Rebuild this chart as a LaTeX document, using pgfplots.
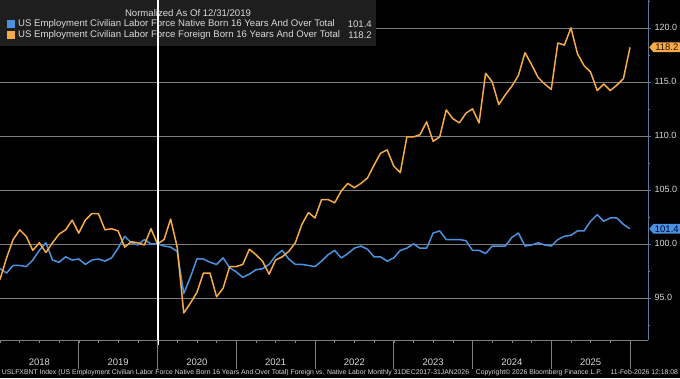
\documentclass[border=0pt]{standalone}
\usepackage{fontspec}
\setmainfont{Liberation Sans}
\usepackage{graphicx}
\usepackage{pgfplots}
\pgfplotsset{compat=1.18}
\usepackage{pgfplotstable}
\usetikzlibrary{shapes.symbols}
\definecolor{bborange}{HTML}{F7AA48}
\definecolor{bbblue}{HTML}{4A92E0}
\definecolor{gridgray}{HTML}{7E7E7E}
\definecolor{txtgray}{HTML}{DADADA}
\definecolor{legbg}{HTML}{1E1E1E}
\definecolor{axblue}{HTML}{5C7A9A}

\pgfplotstableread{
i native foreign
0 97.7 96.7
1 97.3 98.7
2 98.0 100.4
3 98.0 101.3
4 97.9 100.7
5 98.5 99.4
6 99.4 100.1
7 100.1 99.2
8 98.5 100.1
9 98.3 100.9
10 98.8 101.3
11 98.5 102.2
12 98.6 101.0
13 98.1 102.2
14 98.5 102.8
15 98.6 102.8
16 98.4 101.3
17 98.7 101.4
18 99.6 101.2
19 100.7 99.7
20 100.1 100.2
21 99.9 100.1
22 100.4 99.9
23 100.0 101.4
24 100.0 100.0
25 99.8 100.4
26 99.7 102.3
27 99.3 99.7
28 95.4 93.6
29 96.9 94.5
30 98.6 95.5
31 98.6 97.3
32 98.3 97.3
33 98.1 95.1
34 98.7 95.9
35 97.8 97.9
36 97.4 97.9
37 96.9 98.1
38 97.2 99.5
39 97.6 99.0
40 97.7 98.4
41 98.1 97.2
42 98.9 98.5
43 99.4 98.8
44 98.6 99.3
45 98.1 100.1
46 98.1 101.8
47 98.0 102.9
48 97.9 102.4
49 98.4 104.1
50 99.0 104.1
51 99.4 103.8
52 98.7 104.9
53 99.1 105.6
54 99.6 105.2
55 99.8 105.6
56 99.5 106.1
57 98.8 107.3
58 98.8 108.4
59 98.4 108.7
60 98.7 107.2
61 99.4 106.6
62 99.6 109.9
63 100.0 109.9
64 99.6 110.1
65 99.6 111.3
66 101.0 109.5
67 101.2 109.9
68 100.4 112.4
69 100.4 111.6
70 100.4 111.2
71 100.3 112.1
72 99.4 112.5
73 99.4 111.2
74 99.1 115.8
75 99.8 115.0
76 99.8 112.9
77 99.8 113.8
78 100.6 114.6
79 101.0 115.6
80 99.8 117.7
81 99.9 116.6
82 100.1 115.4
83 99.9 114.8
84 99.8 114.3
85 100.4 118.6
86 100.7 118.4
87 100.8 120.0
88 101.2 117.6
89 101.2 116.5
90 102.1 115.9
91 102.7 114.2
92 102.1 114.8
93 102.4 114.2
94 102.4 114.7
95 101.8 115.3
96 101.4 118.2
}\datatable

\begin{document}
\begin{tikzpicture}[x=1pt,y=1pt]
\useasboundingbox (0,0) rectangle (680,378);
\fill[black] (0,0) rectangle (680,378);
\begin{axis}[
  at={(0pt,38pt)}, anchor=south west,
  scale only axis, width=648pt, height=340pt,
  xmin=0, xmax=98.743, ymin=91.1, ymax=122.58,
  axis x line*=bottom, axis y line*=right,
  x axis line style={gridgray, line width=0.6pt, -},
  y axis line style={axblue, line width=0.8pt, -},
  xtick={0,3,...,96}, xticklabels={},
  ytick={95,100,...,120},
  minor ytick={92.5,97.5,...,122.5},
  tick align=outside,
  major tick length=3pt, minor tick length=2pt,
  xtick style={gridgray, line width=0.5pt},
  ytick style={axblue, line width=0.6pt},
  yticklabel style={text=txtgray, font=\fontsize{9}{10}\selectfont},
  /pgf/number format/.cd, fixed, fixed zerofill, precision=1, assume math mode=true,
  /pgfplots/.cd,
  ymajorgrids,
  major grid style={gridgray, line width=0.6pt},
  clip=false,
]
\addplot[bbblue, line width=1.5pt, line join=round] table[x=i,y=native]{\datatable};
\addplot[bborange, line width=1.5pt, line join=round] table[x=i,y=foreign]{\datatable};

% legend box
\fill[legbg] (rel axis cs:0,1) rectangle ([shift={(376pt,-46pt)}]rel axis cs:0,1);
\node[text=txtgray, font=\fontsize{9.6}{10}\selectfont] at ([shift={(188pt,-13pt)}]rel axis cs:0,1) {Normalized As Of 12/31/2019};
\fill[bbblue] ([shift={(7pt,-20pt)}]rel axis cs:0,1) rectangle ([shift={(15pt,-28pt)}]rel axis cs:0,1);
\fill[bborange] ([shift={(7pt,-31pt)}]rel axis cs:0,1) rectangle ([shift={(15pt,-39pt)}]rel axis cs:0,1);
\node[anchor=west, text=txtgray, font=\fontsize{9.6}{10}\selectfont, inner sep=0pt] at ([shift={(18pt,-24pt)}]rel axis cs:0,1) {US Employment Civilian Labor Force Native Born 16 Years And Over Total};
\node[anchor=west, text=txtgray, font=\fontsize{9.6}{10}\selectfont, inner sep=0pt] at ([shift={(18pt,-35pt)}]rel axis cs:0,1) {US Employment Civilian Labor Force Foreign Born 16 Years And Over Total};
\node[anchor=east, text=txtgray, font=\fontsize{9.6}{10}\selectfont, inner sep=0pt] at ([shift={(372pt,-24pt)}]rel axis cs:0,1) {101.4};
\node[anchor=east, text=txtgray, font=\fontsize{9.6}{10}\selectfont, inner sep=0pt] at ([shift={(372pt,-35pt)}]rel axis cs:0,1) {118.2};

% 12/31/2019 marker
\draw[white, line width=2pt] ([yshift=-5pt]axis cs:24,91.1) -- (axis cs:24,122.58);

% year separators and labels
\foreach \s in {12,24,36,48,60,72,84,96} {
  \edef\tmp{\noexpand\draw[gridgray, line width=0.6pt] (axis cs:\s,91.1) -- ([yshift=-29pt]axis cs:\s,91.1);}\tmp
}
\node[text=txtgray, font=\fontsize{9.5}{10}\selectfont] at ([yshift=-22pt]axis cs:6,91.1) {2018};
\node[text=txtgray, font=\fontsize{9.5}{10}\selectfont] at ([yshift=-22pt]axis cs:18,91.1) {2019};
\node[text=txtgray, font=\fontsize{9.5}{10}\selectfont] at ([yshift=-22pt]axis cs:30,91.1) {2020};
\node[text=txtgray, font=\fontsize{9.5}{10}\selectfont] at ([yshift=-22pt]axis cs:42,91.1) {2021};
\node[text=txtgray, font=\fontsize{9.5}{10}\selectfont] at ([yshift=-22pt]axis cs:54,91.1) {2022};
\node[text=txtgray, font=\fontsize{9.5}{10}\selectfont] at ([yshift=-22pt]axis cs:66,91.1) {2023};
\node[text=txtgray, font=\fontsize{9.5}{10}\selectfont] at ([yshift=-22pt]axis cs:78,91.1) {2024};
\node[text=txtgray, font=\fontsize{9.5}{10}\selectfont] at ([yshift=-22pt]axis cs:90,91.1) {2025};

% value tags
\node[signal, signal to=west, signal pointer angle=100, fill=bborange, text=black!85!orange, font=\fontsize{9.5}{10}\selectfont, inner sep=1.5pt, anchor=west, minimum width=31pt] at ([xshift=1pt]axis cs:98.743,118.2) {118.2};
\node[signal, signal to=west, signal pointer angle=100, fill=bbblue, text=black!80!blue, font=\fontsize{9.5}{10}\selectfont, inner sep=1.5pt, anchor=west, minimum width=31pt] at ([xshift=1pt]axis cs:98.743,101.4) {101.4};
\end{axis}
\node[text=txtgray, inner sep=0pt] at (340,5.5) {\resizebox{676pt}{!}{\fontsize{6}{7}\selectfont USLFXBNT Index (US Employment Civilian Labor Force Native Born 16 Years And Over Total) Foreign vs. Native Labor Monthly 31DEC2017-31JAN2026\quad Copyright\textcopyright{} 2026 Bloomberg Finance L.P.\quad\ 11-Feb-2026 12:18:08}};
\end{tikzpicture}
\end{document}
